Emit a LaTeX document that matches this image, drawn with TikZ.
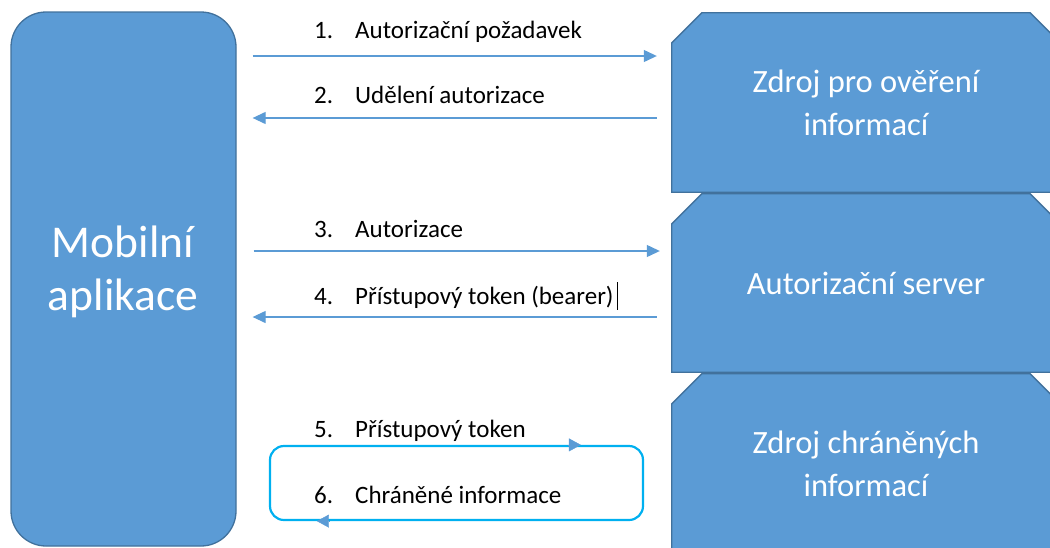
\documentclass[tikz,border=0pt]{standalone}
\usepackage{fontspec}
\setmainfont{Carlito}
\usetikzlibrary{arrows.meta,backgrounds,calc}
\definecolor{boxblue}{HTML}{5B9BD5}
\definecolor{boxedge}{HTML}{41719C}
\definecolor{loopcyan}{HTML}{00B0F0}
\begin{document}
\begin{tikzpicture}[x=1pt,y=-1pt,
  appbox/.style={draw=boxedge, fill=boxblue, line width=1.3pt, rounded corners=35pt,
    minimum width=225pt, minimum height=534pt, inner sep=0pt},
  bigtext/.style={text=white, font=\fontsize{45.5}{53}\selectfont, align=center, inner sep=0pt},
  area/.style={minimum width=388pt, minimum height=179pt, inner sep=0pt, text=white,
    font=\fontsize{32.5}{43}\selectfont, align=center},
  chamf/.style={draw=boxedge, fill=boxblue, line width=1.3pt},
  lbl/.style={anchor=base west, font=\fontsize{25}{28}\selectfont, inner sep=0pt},
  msg/.style={draw=boxblue, line width=1.2pt, -{Triangle[length=13pt,width=12pt]}},
  loopbox/.style={draw=loopcyan, line width=2.2pt, rounded corners=14pt,
    minimum width=373pt, minimum height=74pt, inner sep=0pt},
  loophead/.style={draw=boxblue, line width=0.4pt, -{Triangle[length=12pt,width=13pt]}},
]
\useasboundingbox (0,0) rectangle (1050,547);
\clip (0,0) rectangle (1050,547);

% left app box
\node[appbox] (app) at (123.5,279) {};
\node[bigtext] (apptext) at (123,272) {Mobilní\\aplikace};

% right areas
\node[area] (src) at (866,102.5) {Zdroj pro ověření\\informací};
\node[area, minimum height=178pt] (auth) at (866,283) {Autorizační server};
\node[area] (prot) at (866,463.5) {Zdroj chráněných\\informací};
\begin{scope}[on background layer]
  \foreach \n in {src,auth,prot}{
    \filldraw[chamf] (\n.south west) -- ([yshift=-30pt]\n.north west)
      -- ([xshift=30pt]\n.north west) -- ([xshift=-30pt]\n.north east)
      -- ([yshift=-30pt]\n.north east) -- (\n.south east) -- cycle;
  }
\end{scope}

% messages
\draw[msg, shorten <=16pt, shorten >=15pt] (app.east |- 0,56) -- (src.west |- 0,56);
\draw[msg, shorten <=15pt, shorten >=16pt] (src.west |- 0,118) -- (app.east |- 0,118);
\draw[msg, shorten <=17pt, shorten >=12pt] (app.east |- 0,251) -- (auth.west |- 0,251);
\draw[msg, shorten <=15pt, shorten >=16pt] (auth.west |- 0,317) -- (app.east |- 0,317);

\node[lbl] (l1) at (314,38) {\makebox[41pt][l]{1.}Autorizační požadavek};
\node[lbl] (l2) at (314,103) {\makebox[41pt][l]{2.}Udělení autorizace};
\node[lbl] (l3) at (314,237) {\makebox[41pt][l]{3.}Autorizace};
\node[lbl] (l4) at (314,304) {\makebox[41pt][l]{4.}Přístupový token (bearer)};
\coordinate (caretTop) at (617,282);
\coordinate (caretBot) at (617,310);
\draw[black, line width=0.9pt] (caretTop) -- (caretBot);

% loop 5/6
\node[loopbox] (loop) at (456.5,483) {};
\draw[loophead] ([xshift=299.5pt]loop.north west) -- ([xshift=312pt]loop.north west);
\draw[loophead] ([xshift=60.5pt]loop.south west) -- ([xshift=48pt]loop.south west);
\node[lbl] (l5) at (314,437) {\makebox[41pt][l]{5.}Přístupový token};
\node[lbl] (l6) at (314,503) {\makebox[41pt][l]{6.}Chráněné informace};
\end{tikzpicture}
\end{document}
